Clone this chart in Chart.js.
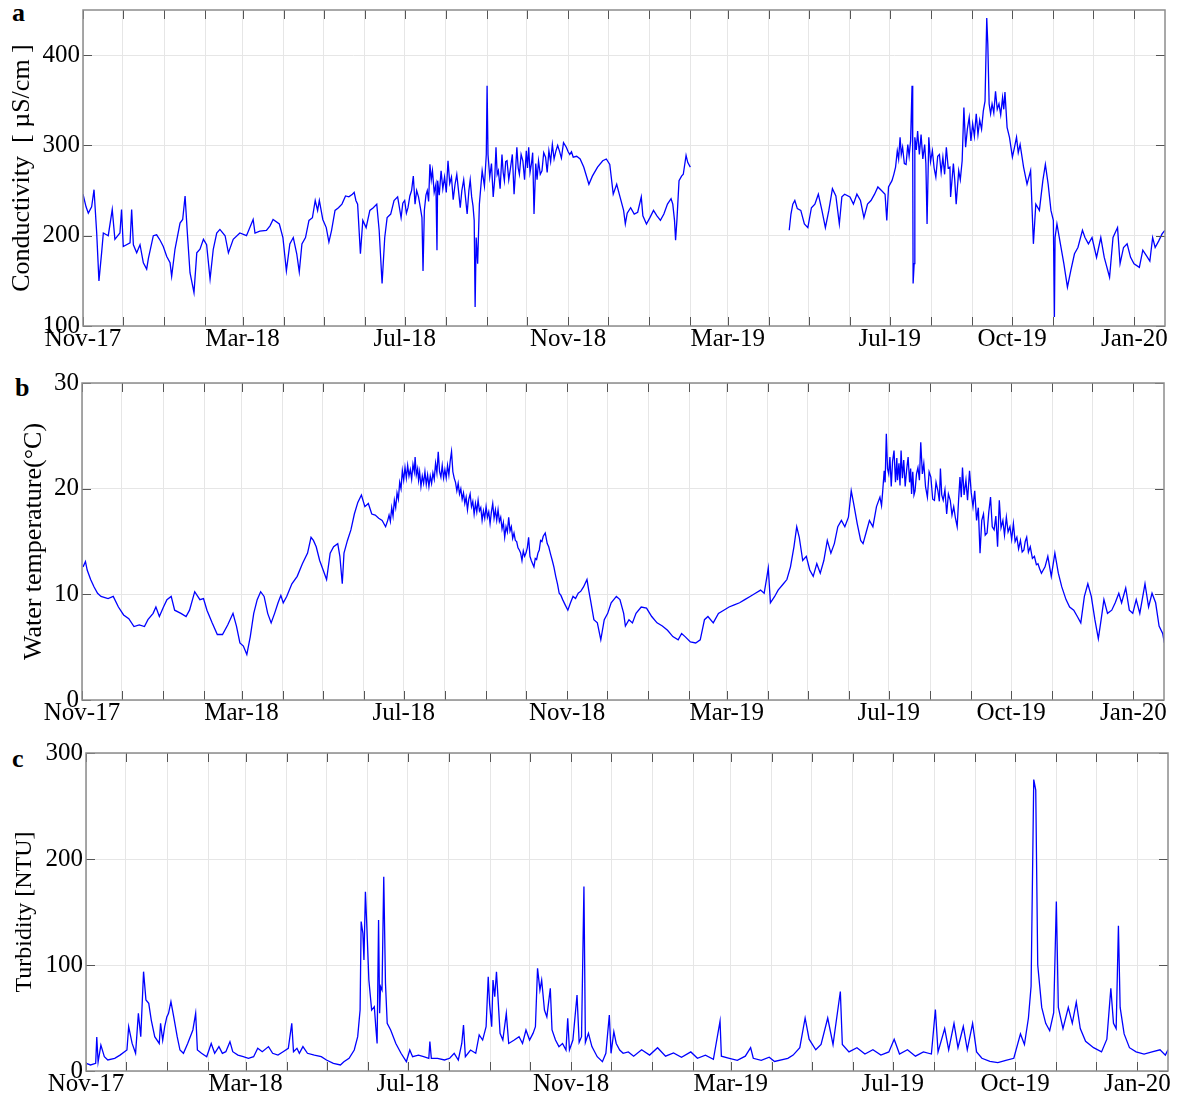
<!DOCTYPE html>
<html>
<head>
<meta charset="utf-8">
<script src="https://cdn.jsdelivr.net/npm/chart.js@4.4.1/dist/chart.umd.min.js"></script>
<style>
  html, body { margin: 0; padding: 0; background: #fff; }
  body { width: 1180px; height: 1104px; position: relative; overflow: hidden; font-family: 'Liberation Serif', 'Times New Roman', serif; }
  canvas { position: absolute; left: 0; }
  .tag { position: absolute; font-weight: bold; font-size: 26px; line-height: 26px; }
</style>
</head>
<body>
<div class="tag" style="left:12px;top:0px">a</div>
<div class="tag" style="left:15px;top:375px">b</div>
<div class="tag" style="left:12px;top:746px">c</div>
<canvas id="condChart" width="1180" height="362" style="top:0px"></canvas>
<canvas id="tempChart" width="1180" height="374" style="top:362px"></canvas>
<canvas id="turbChart" width="1180" height="368" style="top:736px"></canvas>
<script>
// x values are days since 1 Nov 2017
const tickLabels = ['Nov-17', 'Mar-18', 'Jul-18', 'Nov-18', 'Mar-19', 'Jul-19', 'Oct-19', 'Jan-20'];
const labelMonthIdx = [0, 4, 8, 12, 16, 20, 23, 26];
const lastDay = 814;

// conductivity [uS/cm]; null = logger gap
const condDays = [0, 2.3, 4, 6.5, 8.3, 10.3, 12, 14, 15.3, 19,
  22, 24, 27.8, 29, 30.3, 35.4, 36.6, 37.9, 40.4, 42.9,
  45.4, 47.9, 49.2, 52.9, 55.4, 58, 60.4, 63, 65.5, 66.7,
  69.2, 73, 75, 76.8, 78.5, 80.5, 83.5, 85.6, 88, 90.6,
  93, 95.6, 98, 100.6, 103, 106.9, 109.4, 113, 118, 123,
  128, 129.4, 133, 138, 140.7, 143, 147.7, 150.4, 153, 155.6,
  158.2, 160.8, 162.7, 164.7, 167.4, 170, 172.6, 174.7, 176.5, 177.8,
  180.4, 183, 185, 187, 189.6, 192.2, 194.8, 197.5, 200, 202.7,
  204, 205.3, 206.6, 208.7, 210.5, 213, 215.8, 218.4, 221, 222.8,
  225, 227, 228.8, 231.5, 234, 236.7, 239.3, 240.6, 242, 243.3,
  244.5, 245.9, 247.2, 248.5, 249.8, 251, 252.4, 253.7, 255, 255.8,
  256.8, 258, 259, 260, 261, 262, 262.9, 264.2, 265.5, 266.3,
  266.8, 268, 269.4, 270.7, 272, 273.3, 274.6, 275.9, 277.2, 278.5,
  279.9, 281.2, 282.5, 283.8, 285, 286.4, 287.7, 289, 290.3, 291.3,
  292.4, 293.4, 294.3, 295, 295.8, 296.9, 298.2, 300.3, 302, 303.4,
  304, 304.7, 306, 307.3, 308.6, 309.7, 310.7, 311.6, 312.5, 313.8,
  315.2, 316.1, 317, 318, 319, 320.3, 321.7, 323, 324.3, 325.3,
  326.4, 327.4, 328.3, 329.6, 330.9, 332.2, 333.5, 334.4, 335.3, 336.3,
  337.4, 338.3, 339.3, 340.6, 341.6, 342.7, 344, 345.3, 346.6, 348,
  349.2, 350.5, 351.8, 353.1, 354.4, 355.8, 357.1, 358.4, 359.9, 361.5,
  363.6, 365, 366.2, 367.5, 368.8, 371.4, 374, 376.7, 380.6, 383.2,
  387.1, 391, 393.7, 396.3, 398.9, 401.5, 404, 406.7, 408, 409.4,
  412, 414.7, 417.3, 420, 421.2, 423.9, 426.5, 429.2, 431.8, 434.4,
  437, 439.7, 442.4, 443.7, 445, 445.8, 446.8, 448.4, 450.3, 451.6,
  453.7, 455, 456.9, 494, 531.3, 532.6, 534, 535.5, 537.4, 540,
  542.7, 545.3, 548, 550.6, 553.2, 555.9, 558.5, 561.1, 563.8, 566.4,
  569, 570.9, 573, 577, 579.6, 582.2, 584.9, 587.5, 590.2, 592.8,
  595.5, 598, 600.7, 603.4, 604.7, 606, 608.6, 610, 611.3, 612.6,
  613.6, 614.7, 615.6, 616.6, 617.9, 619.2, 620.5, 621.5, 622.6, 623.7,
  624.2, 624.5, 625.3, 625.8, 626.9, 627.9, 629.2, 630.5, 631.8, 633.2,
  634.1, 635, 636.3, 637.6, 639, 640.3, 641.6, 643, 644.3, 645.6,
  646.9, 648.2, 649.5, 650.9, 652.2, 652.7, 654.8, 655.8, 656.9, 658.8,
  660, 661.4, 662.7, 664, 665.3, 666.7, 668, 669.3, 670.6, 672,
  673.3, 674.6, 676, 677.3, 678.6, 679.9, 680.7, 681.7, 682.8, 683.9,
  685.2, 686.5, 687.8, 689.1, 690.4, 691.8, 692.7, 693.6, 695.2, 697,
  699.2, 700.8, 702.3, 703.6, 705, 707.6, 710.2, 712.9, 715, 716.8,
  719.5, 722.1, 724, 726.1, 728.2, 730, 730.8, 731.3, 732.7, 735.3,
  737.9, 740.6, 743.2, 745.9, 748.5, 751.9, 753.8, 756.4, 759.1, 762.5,
  765.7, 768.3, 772.3, 774.9, 778.3, 780.2, 782.8, 785.5, 788.1, 790.7,
  794.7, 797.3, 800, 802.6, 804.7, 806.6, 809.2, 811.8, 813.9];
const condVals = [246, 232, 225, 232, 251, 203, 150, 181, 203, 200,
  229, 196, 203, 229, 188, 192, 229, 190, 181, 190,
  170, 163, 175, 200, 201, 195, 188, 177, 170, 155,
  185, 214, 218, 244, 203, 159, 137, 181, 185, 196,
  190, 152, 185, 203, 207, 200, 181, 196, 203, 200,
  218, 203, 205, 206, 211, 218, 213, 198, 161, 191,
  198, 180, 160, 191, 198, 217, 220, 239, 228, 239,
  218, 209, 193, 206, 228, 231, 235, 244, 243, 246,
  248, 239, 235, 180, 217, 209, 228, 231, 235, 206,
  147, 198, 220, 224, 239, 243, 220, 236, 239, 225,
  231, 244, 250, 266, 235, 250, 243, 232, 220, 161,
  228, 245, 250, 238, 279, 262, 272, 248, 257, 184,
  261, 245, 272, 252, 265, 248, 283, 258, 265, 240,
  257, 268, 250, 231, 250, 262, 243, 224, 250, 262,
  243, 233, 217, 121, 198, 169, 235, 272, 255, 290,
  366, 290, 265, 280, 243, 262, 298, 268, 272, 252,
  290, 270, 261, 282, 283, 262, 276, 290, 246, 270,
  298, 275, 268, 290, 283, 262, 294, 275, 298, 270,
  280, 292, 224, 280, 262, 283, 268, 272, 292, 287,
  270, 294, 282, 301, 285, 294, 300, 294, 286, 303,
  298, 293, 290, 293, 287, 288, 285, 276, 257, 266,
  276, 283, 285, 279, 246, 257, 243, 228, 213, 225,
  231, 224, 226, 243, 222, 213, 220, 228, 222, 217,
  224, 235, 241, 235, 217, 195, 217, 261, 266, 268,
  289, 281, 276, null, 206, 224, 235, 239, 230, 228,
  213, 209, 231, 235, 246, 228, 209, 228, 252, 244,
  213, 243, 246, 243, 235, 246, 239, 220, 235, 239,
  246, 254, 250, 246, 217, 254, 261, 268, 276, 294,
  285, 309, 290, 298, 280, 279, 301, 288, 305, 366,
  290, 147, 169, 309, 295, 316, 290, 312, 285, 301,
  280, 213, 309, 282, 294, 275, 265, 288, 290, 270,
  287, 268, 298, 275, 276, 243, 280, 262, 235, 272,
  262, 283, 342, 298, 318, 331, 305, 324, 310, 335,
  312, 328, 318, 338, 349, 441, 412, 346, 335, 346,
  336, 360, 340, 346, 334, 353, 340, 359, 320, 309,
  287, 298, 309, 292, 301, 276, 257, 272, 191, 235,
  228, 261, 279, 257, 228, 217, 110, 198, 213, 191,
  169, 143, 162, 180, 187, 206, 198, 191, 198, 176,
  198, 176, 154, 198, 209, 169, 187, 191, 176, 169,
  165, 184, 178, 172, 198, 187, 194, 202, 206];

// water temperature [deg C]
const tempDays = [0.8, 2.6, 3.9, 6.5, 9.1, 11.7, 14.3, 19.6, 23.5, 27.4,
  31.3, 35.2, 39.1, 43.1, 47, 49.6, 53.5, 55.6, 58.2, 61.3,
  63.9, 67.1, 69.7, 74.4, 78.3, 80.9, 84.8, 88.7, 91.4, 94,
  97.9, 101.8, 105.7, 109.6, 113.6, 116.2, 118.8, 121.4, 124, 126.6,
  129.2, 131.8, 134.4, 137, 139.7, 142.3, 144.9, 147.5, 149.6, 151.4,
  154, 157.9, 161.9, 165.8, 169.7, 172.3, 174.1, 176.2, 178.8, 181.4,
  184, 186.7, 189.3, 192.4, 194, 195.8, 197.1, 199.7, 202.3, 204.9,
  207.5, 210.2, 212.8, 215.4, 218, 220.6, 223.2, 225.8, 228.4, 230,
  231, 232, 233, 234, 235, 236, 237, 238, 239, 240,
  241, 242, 243, 244, 245, 246, 247, 248, 249, 250,
  250.6, 251.5, 252.5, 253.2, 254, 255, 256, 257, 258, 259,
  260, 261, 262, 263, 264, 265, 266, 267, 268, 269,
  270, 271, 272, 273, 274, 275, 276, 277, 278, 279,
  280, 281, 282, 283, 284, 285, 286, 287, 288, 289,
  290, 291, 292, 293, 294, 295, 296, 297, 298, 299,
  300, 301, 302, 303, 304, 305, 306, 307, 308, 309,
  310, 311, 312, 313, 314, 315, 316, 317, 318, 319,
  320, 321, 322, 323, 324, 325, 326, 327, 328, 329,
  330, 331, 332, 333, 334, 335, 336, 337, 338, 339,
  340, 341, 342, 343, 344, 345, 346, 347, 348.5, 350,
  351.1, 352.5, 353.8, 355, 356.4, 357.7, 359, 360.3, 361.6, 363.5,
  365.5, 367.5, 369.4, 371.3, 373.3, 375.3, 377.3, 379.9, 381.2, 382.5,
  385.1, 387.7, 390.3, 392.9, 395.5, 398.1, 402, 404.7, 407.5, 408.8,
  411.5, 414.1, 416.8, 420.7, 424.7, 428.6, 432.6, 436.6, 440.5, 444.5,
  448.5, 451.1, 453.7, 457.7, 461.7, 465.1, 468.3, 470.9, 474.9, 478.8,
  482.8, 486.8, 490.7, 494.7, 498.6, 502.6, 506.6, 510.5, 513.2, 515.3,
  516.3, 517.9, 521.1, 523.7, 527.7, 530.3, 533, 535.6, 537.7, 539.6,
  542.2, 544.9, 547.5, 550.1, 552.8, 555.4, 558.1, 560.7, 563.4, 566,
  568.6, 571.3, 573.9, 576.6, 578.7, 580.5, 583.2, 585.8, 587.6, 589.8,
  592.4, 595, 597.7, 600.3, 601.5, 602.4, 603.5, 604.2, 605.1, 606,
  606.9, 607.8, 608.8, 609.8, 610.9, 612, 613, 613.5, 614.6, 615.4,
  616.2, 617.2, 618.2, 619.3, 620.4, 621.5, 622.6, 623.4, 624.1, 625,
  625.9, 626.7, 627.8, 628.9, 630, 631, 632.2, 633.3, 634.6, 636,
  637.3, 638.6, 640, 641.3, 642.5, 643.9, 645, 645.8, 646.8, 647.9,
  649.2, 650.5, 651.8, 653.2, 654.5, 655.8, 657.1, 658.4, 659.5, 660.5,
  661.5, 662.4, 663.6, 665, 666.2, 667.7, 669, 670.3, 671.6, 673,
  674.3, 675.6, 676.9, 678.2, 679.5, 680.9, 682.2, 683.5, 684.8, 686.2,
  687.5, 688.8, 690.1, 691.4, 692.8, 694, 695.4, 696.7, 698.1, 699.4,
  700.7, 702, 703.3, 704.6, 706, 707.3, 708.6, 709.6, 710.7, 712,
  713.4, 715, 716.5, 718, 719.2, 720.5, 721.8, 724.5, 726.6, 729.2,
  731.9, 734.5, 737.1, 740.3, 743, 746.1, 748.8, 751.4, 754.1, 756.7,
  759.3, 762, 764.6, 766.7, 768.8, 771.5, 774.7, 777.3, 780, 782.1,
  785.2, 787.9, 790.5, 793.1, 795.8, 799.7, 802.4, 805, 807.7, 810.3,
  813, 814.3];
const tempVals = [12.6, 13.1, 12.3, 11.4, 10.7, 10.1, 9.8, 9.6, 9.8, 8.8,
  8.05, 7.7, 6.95, 7.1, 6.95, 7.6, 8.2, 8.8, 7.9, 8.8,
  9.5, 9.8, 8.5, 8.2, 7.9, 8.5, 10.25, 9.5, 9.6, 8.5,
  7.3, 6.2, 6.2, 7.1, 8.2, 7.0, 5.4, 5.1, 4.3, 6.0,
  8.2, 9.5, 10.25, 9.8, 8.2, 7.3, 8.2, 9.2, 9.9, 9.2,
  9.8, 11.0, 11.7, 12.9, 13.9, 15.4, 15.1, 14.5, 13.2, 12.3,
  11.4, 13.9, 14.5, 14.8, 13.6, 11.0, 13.9, 15.1, 16.1, 17.6,
  18.7, 19.4, 18.3, 18.6, 17.6, 17.5, 17.2, 17.0, 16.4, 17.0,
  17.5, 16.9, 18.2, 17.4, 18.9, 18.2, 19.6, 19.0, 20.6, 20.0,
  21.7, 20.8, 22.0, 21.0, 22.2, 21.2, 21.8, 20.9, 22.3, 21.6,
  23.0, 21.3, 21.9, 20.8, 21.6, 20.2, 21.2, 20.5, 21.6, 20.4,
  21.3, 20.2, 21.2, 20.5, 21.5, 20.9, 22.4, 21.5, 23.5, 21.6,
  21.1, 22.2, 21.0, 21.8, 21.0, 22.2, 21.3, 22.6, 23.5, 21.6,
  21.0, 20.6, 19.8, 20.5, 19.5, 20.0, 19.0, 19.6, 18.6, 19.2,
  18.0, 19.0, 19.5, 18.3, 18.8, 17.6, 18.6, 17.8, 18.9, 17.9,
  18.2, 17.0, 17.9, 17.2, 18.3, 17.3, 17.8, 16.7, 17.8, 18.6,
  17.2, 18.0, 17.0, 18.0, 16.9, 17.3, 16.2, 16.8, 15.4, 16.4,
  15.9, 17.3, 16.0, 16.4, 15.3, 15.8, 15.1, 15.0, 14.4, 14.2,
  13.9, 13.2, 14.1, 13.6, 13.9, 14.4, 15.4, 13.6, 13.2, 12.9,
  12.6, 13.4, 13.3, 13.9, 14.2, 15.1, 15.0, 15.5, 15.8, 14.8,
  14.5, 13.8, 13.2, 12.6, 11.7, 11.0, 10.1, 9.9, 9.5, 9.0,
  8.5, 9.2, 9.8, 9.6, 10.1, 10.3, 10.7, 11.4, 10.4, 9.5,
  7.6, 7.3, 5.7, 7.6, 8.2, 9.2, 9.8, 9.5, 8.2, 7.0,
  7.6, 7.3, 8.2, 8.8, 8.7, 7.9, 7.3, 7.0, 6.6, 6.0,
  5.7, 6.3, 6.0, 5.5, 5.4, 5.7, 7.6, 7.9, 7.3, 8.2,
  8.5, 8.8, 9.0, 9.2, 9.5, 9.8, 10.1, 10.4, 10.1, 11.7,
  12.5, 9.2, 9.8, 10.4, 11.0, 11.4, 12.6, 14.5, 16.4, 15.4,
  13.2, 13.6, 12.3, 11.7, 12.9, 12.0, 13.2, 15.1, 13.9, 14.8,
  16.4, 17.0, 16.4, 17.3, 19.8, 18.6, 16.7, 15.1, 14.8, 15.8,
  17.0, 16.4, 18.3, 19.2, 18.4, 19.8, 21.7, 20.6, 25.2, 21.9,
  21.4, 23.0, 20.2, 22.6, 23.6, 20.6, 22.9, 20.8, 22.4, 20.3,
  23.6, 21.0, 22.7, 20.2, 21.8, 23.0, 20.6, 21.9, 19.5, 21.6,
  19.4, 19.8, 21.4, 22.0, 20.8, 24.4, 21.4, 22.4, 20.2, 19.2,
  21.6, 21.1, 19.0, 18.9, 20.6, 19.8, 18.8, 21.9, 19.4, 18.9,
  19.9, 17.6, 19.5, 18.9, 17.5, 18.3, 17.2, 16.4, 19.0, 21.1,
  19.2, 22.0, 19.4, 20.8, 18.9, 21.7, 19.6, 18.3, 19.8, 17.0,
  18.2, 13.9, 17.0, 17.6, 15.6, 15.8, 17.8, 19.2, 16.4, 16.1,
  17.4, 14.5, 18.9, 16.3, 17.0, 15.6, 17.3, 15.9, 16.4, 15.2,
  16.7, 15.0, 15.4, 14.3, 15.1, 14.0, 14.2, 15.0, 15.4, 14.0,
  14.5, 13.4, 13.6, 12.8, 12.9, 12.4, 12.0, 12.6, 13.6, 11.7,
  13.9, 12.0, 10.7, 9.5, 8.8, 8.5, 7.9, 7.3, 9.8, 11.0,
  9.8, 7.6, 5.8, 7.6, 9.5, 8.2, 8.5, 9.2, 10.1, 9.2,
  10.6, 8.5, 8.2, 9.5, 8.2, 11.0, 8.8, 10.1, 9.2, 7.0,
  6.3, 5.4];

// turbidity [NTU]
const turbDays = [0.2, 3.4, 7.3, 8.1, 9.1, 11.2, 13.8, 16.4, 21.6, 25.6, 30.8, 32.1, 34.7, 37.3, 39.4, 41.2, 43.3, 45.1, 47.2, 49.1,
  51.7, 55.1, 56.1, 57.7, 59.2, 60.8, 62.1, 63.9, 66, 68.6, 70.7, 73.3, 76.5, 80.4, 82.5, 83.8, 86.9, 90.8, 94.2, 96.8,
  100, 102.6, 105.2, 108.3, 110.4, 114.3, 118.3, 122.2, 126.1, 129.2, 132.6, 137.3, 140.4, 144.4, 148.3, 152.2, 154.8, 156.1, 158.7, 160.5,
  163.2, 166.6, 171.8, 177, 180.9, 186.1, 191.4, 194, 197.9, 201.8, 204.4, 206.2, 207, 208.3, 209.1, 210.2, 211.2, 212.8, 214.9, 216.9,
  218, 219, 220.1, 220.9, 221.6, 222.7, 224, 225.3, 226.6, 229.2, 233.1, 237, 241, 243.6, 245.7, 250.1, 254, 257.9, 258.7, 259.8,
  264.5, 269.7, 273.6, 277, 280.1, 282.7, 284, 285.4, 289.3, 293.2, 295.8, 298.4, 301, 302.6, 303.6, 305.2, 306.2, 307.5, 308.8, 310.2,
  311.5, 313.6, 316.2, 318, 321.9, 325.8, 328.4, 331, 333.7, 336.3, 338.1, 339.7, 341.5, 342.8, 344.9, 346.7, 349.3, 350.6, 353.2, 355.8,
  358.5, 361.1, 362.4, 363.7, 366.3, 369.4, 371, 372.8, 374.6, 375.7, 378, 380.6, 384.6, 388.5, 391.1, 393.7, 395, 397.1, 398.9, 401.5,
  404.1, 408, 412, 418, 424, 430, 436, 442, 448, 455, 460, 466, 472, 477, 478, 484, 490, 496, 500, 502,
  508, 514, 518, 528, 532, 537, 541, 544, 549, 553, 558, 562, 567.5, 569, 574, 580, 586, 592, 598, 604,
  608, 612, 618, 624, 630, 636, 639, 641, 646, 649, 653, 656, 660, 663, 667, 670, 674, 680, 686, 692,
  698, 703, 706, 709, 711, 713, 714.5, 716, 719, 722, 725, 728, 730, 731.5, 735, 739, 742, 745, 748, 752,
  758, 764, 768, 771, 773, 775, 776.7, 778, 781, 785, 790, 796, 802, 808, 812, 814];
const turbVals = [7.2, 5.7, 7.2, 32, 8.5, 24.5, 13.5, 10.4, 12, 15, 19.8, 41.8, 26, 16.7, 54.4, 32.4, 93.7, 67, 63.8, 48,
  32.4, 26, 45, 29, 41.8, 51, 54.4, 65.4, 51, 32.4, 19.8, 16.7, 26, 38.7, 54.4, 19.8, 16.7, 13.5, 26, 16.7,
  23, 16.7, 18.2, 27.7, 18.2, 15, 13.5, 12, 13.5, 21.4, 18.2, 23, 16.7, 15, 18.2, 21.4, 45, 18.2, 21.4, 16.7,
  23, 16.7, 15, 13.5, 10.4, 7.2, 5.7, 8.8, 12, 19.8, 32.4, 57.5, 141, 130, 104.7, 169, 139, 85.8, 57.5, 60.7,
  41.8, 26, 142.5, 54.4, 79.6, 76.4, 183.3, 82.7, 45, 38.7, 26, 16.7, 8.8, 19.8, 13.5, 15, 13.5, 12, 27.7, 12,
  12, 10.4, 12, 16.7, 10.4, 26, 43.4, 13.5, 19.8, 16.7, 34, 29.2, 41.8, 89, 63.8, 41.8, 85.8, 70, 93.7, 63.8,
  35.5, 29.2, 54.4, 26, 29, 32.4, 26, 38.7, 29.2, 35.5, 41.8, 96.8, 76.4, 85.8, 57.5, 51, 78, 38.7, 29.2, 23,
  26, 19.8, 49.7, 19.8, 29.2, 71.7, 27, 32.4, 174, 27, 35.5, 23, 13.5, 8.8, 16.7, 52.8, 16.7, 37.1, 26, 19.8,
  16.7, 18, 14, 20, 15, 22, 14, 17, 13, 18, 12, 15, 11, 47, 14, 12, 10, 14, 22, 12,
  10, 13, 9, 12, 15, 22, 50, 30, 20, 25, 50, 25, 75, 25, 18, 22, 16, 20, 15, 18,
  30, 16, 20, 14, 18, 16, 58, 18, 40, 20, 45, 22, 42, 20, 45, 18, 12, 9, 8, 10,
  12, 35, 25, 50, 80, 275, 265, 100, 60, 45, 38, 55, 160, 60, 40, 60, 45, 65, 40, 28,
  22, 18, 30, 78, 45, 40, 137, 60, 35, 22, 18, 16, 18, 20, 15, 20];

const t0 = Date.UTC(2017, 10, 1);
const monthDays = [];
for (let m = 0; m <= 26; m++) {
  monthDays.push(Math.round((Date.UTC(2017, 10 + m, 1) - t0) / 864e5));
}
const labelAt = {};
labelMonthIdx.forEach((m, i) => { labelAt[monthDays[m]] = tickLabels[i]; });

Chart.defaults.font.family = "'Liberation Serif', 'Times New Roman', serif";
Chart.defaults.color = '#000';

// MATLAB-style box: inward ticks on all four sides
const boxTicks = {
  id: 'boxTicks',
  afterDraw(chart) {
    const { ctx, chartArea: a, scales: { x, y } } = chart;
    ctx.save();
    ctx.strokeStyle = '#555';
    ctx.lineWidth = 1;
    ctx.beginPath();
    x.ticks.forEach(t => {
      const px = Math.round(x.getPixelForValue(t.value)) + 0.5;
      ctx.moveTo(px, a.bottom); ctx.lineTo(px, a.bottom - 9);
      ctx.moveTo(px, a.top); ctx.lineTo(px, a.top + 9);
    });
    y.ticks.forEach(t => {
      const py = Math.round(y.getPixelForValue(t.value)) + 0.5;
      ctx.moveTo(a.left, py); ctx.lineTo(a.left + 9, py);
      ctx.moveTo(a.right, py); ctx.lineTo(a.right - 9, py);
    });
    ctx.stroke();
    ctx.strokeStyle = '#8c8c8c';
    ctx.lineWidth = 1.5;
    ctx.strokeRect(a.left, a.top, a.right - a.left, a.bottom - a.top);
    ctx.restore();
  }
};

function drawPanel(id, days, vals, o) {
  const pts = days.map((d, i) => ({ x: d, y: vals[i] }));
  return new Chart(document.getElementById(id), {
    type: 'line',
    data: {
      datasets: [{
        data: pts,
        borderColor: '#0000ff',
        borderWidth: 1.3,
        pointRadius: 0,
        tension: 0,
        spanGaps: false
      }]
    },
    options: {
      responsive: false,
      animation: false,
      events: [],
      layout: { padding: { top: o.top, right: o.right, left: 0, bottom: 0 } },
      plugins: { legend: { display: false }, tooltip: { enabled: false } },
      scales: {
        x: {
          type: 'linear',
          min: 0,
          max: lastDay,
          afterBuildTicks: s => { s.ticks = monthDays.map(v => ({ value: v })); },
          afterFit: s => { s.height = o.xh; s.paddingLeft = 0; s.paddingRight = 0; },
          ticks: {
            autoSkip: false,
            maxRotation: 0,
            minRotation: 0,
            padding: -2,
            font: { size: 25 },
            callback: v => labelAt[v] || ''
          },
          grid: { color: '#e6e6e6', drawTicks: false },
          border: { display: false }
        },
        y: {
          min: o.min,
          max: o.max,
          afterBuildTicks: s => { s.ticks = o.ticks.map(v => ({ value: v })); },
          afterFit: s => { s.width = o.yw; s.paddingTop = 0; s.paddingBottom = 0; },
          ticks: { padding: 3, font: { size: 25 } },
          grid: { color: '#e6e6e6', drawTicks: false },
          border: { display: false },
          title: {
            display: true,
            text: o.title,
            font: { size: o.tsize },
            padding: { top: o.tpad, bottom: 0 }
          }
        }
      }
    },
    plugins: [boxTicks]
  });
}

drawPanel('condChart', condDays, condVals, {
  top: 10, right: 15, xh: 36, yw: 83, min: 100, max: 450, ticks: [100, 200, 300, 400],
  title: 'Conductivity  [ \u00b5S/cm ]', tsize: 26, tpad: 7
});
drawPanel('tempChart', tempDays, tempVals, {
  top: 21, right: 16, xh: 36, yw: 82, min: 0, max: 30, ticks: [0, 10, 20, 30],
  title: 'Water temperature(\u00b0C)', tsize: 26, tpad: 19
});
drawPanel('turbChart', turbDays, turbVals, {
  top: 17, right: 12, xh: 33, yw: 86, min: 0, max: 300, ticks: [0, 100, 200, 300],
  title: 'Turbidity [NTU]', tsize: 24, tpad: 10
});
</script>
</body>
</html>
